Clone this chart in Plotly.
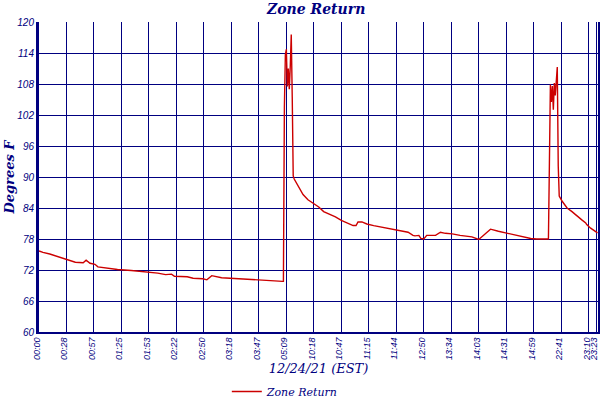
import plotly.graph_objects as go

# sample index along the log (one sample roughly every minute, gaps in the log)
sample_idx = [0, 4, 11, 17, 24, 31, 37, 45, 48, 52, 57, 60, 67, 80, 94, 108, 121, 129,
              135, 138, 151, 157, 167, 171, 176, 186, 208, 232, 240, 248, 249,
              250, 251, 252, 253, 254, 255, 256, 257, 258, 259, 260,
              263, 266, 269, 274, 280, 285, 290, 295, 302, 308, 315, 320, 323, 325,
              329, 334, 341, 349, 359, 368, 376, 381, 383, 387, 389, 392, 395, 404,
              409, 414, 421, 429, 441, 448, 455, 460, 468, 475, 480, 487, 495, 501,
              507, 518, 519,
              520, 521, 522, 523, 524, 525, 526, 527, 528, 529, 530,
              533, 538, 543, 548, 553, 557, 558, 562, 567, 569]
zone_return = [75.7, 75.4, 75.1, 74.7, 74.3, 73.9, 73.5, 73.4, 73.9, 73.3, 73.1, 72.6, 72.4,
               72.1, 71.9, 71.7, 71.4, 71.1, 71.2, 70.8, 70.7, 70.4, 70.3, 70.1, 70.9,
               70.5, 70.3, 70.1, 69.9, 69.8, 69.8,
               103.5, 113.7, 114.7, 107.5, 111.0, 107.0, 111.5, 117.6, 105.5, 90.2, 89.6,
               88.5, 87.5, 86.6, 85.6, 84.8, 84.2, 83.3, 82.9, 82.3, 81.6, 81.1, 80.6,
               80.6, 81.3, 81.3, 80.9, 80.6, 80.3, 79.9, 79.6, 79.3, 78.7, 78.6, 78.7,
               78.1, 78.0, 78.7, 78.7, 79.3, 79.1, 79.0, 78.7, 78.4, 77.9, 79.0, 79.9,
               79.5, 79.2, 79.1, 78.7, 78.4, 78.1, 78.0, 78.0, 78.0,
               92.7, 107.9, 104.5, 107.6, 103.0, 108.2, 105.8, 110.1, 111.3, 92.1, 86.3,
               85.3, 84.0, 83.3, 82.4, 81.7, 81.1, 80.8, 80.1, 79.5, 79.2]

tick_idx = [0, 28, 56, 84, 112, 140, 168, 196, 224, 252, 280, 308, 336, 364, 392,
            420, 448, 476, 504, 532, 560, 568]
tick_labels = ['00:00', '00:28', '00:57', '01:25', '01:53', '02:22', '02:50', '03:18',
               '03:47', '05:09', '10:18', '10:47', '11:15', '11:44', '12:50', '13:34',
               '14:03', '14:31', '14:59', '22:41', '23:10', '23:23']
y_ticks = [60, 66, 72, 78, 84, 90, 96, 102, 108, 114, 120]

navy = '#000080'
serif = 'DejaVu Serif'
sans = 'Liberation Sans'

fig = go.Figure()
fig.add_trace(go.Scatter(x=sample_idx, y=zone_return, mode='lines', name='Zone Return',
                         line=dict(color='#cc0000', width=1.4)))

fig.update_layout(
    width=600, height=400,
    margin=dict(l=39, r=2, t=22, b=68, autoexpand=False),
    paper_bgcolor='white', plot_bgcolor='white',
    title=dict(text='<b>Zone Return</b>', x=0.527, xanchor='center', y=0.99, yanchor='top',
               font=dict(family=serif, size=14, color=navy, style='italic')),
    showlegend=True,
    legend=dict(orientation='h', x=0.336, xanchor='left', y=-0.145, yanchor='top',
                itemwidth=30, font=dict(family=serif, size=11, color=navy, style='italic')),
)
fig.update_xaxes(range=[0, 569.5], tickvals=tick_idx, ticktext=tick_labels, tickangle=-90,
                 tickfont=dict(family=sans, size=9, color=navy, style='italic'),
                 ticklabelshift=-2, automargin=False,
                 showgrid=True, gridcolor=navy, gridwidth=1,
                 showline=True, linecolor=navy, linewidth=2, ticks='', zeroline=False,
                 title=dict(text='12/24/21 (EST)', standoff=4,
                            font=dict(family=serif, size=13, color=navy, style='italic')))
fig.update_yaxes(range=[60, 120], tickvals=y_ticks, automargin=False,
                 tickfont=dict(family=sans, size=10, color=navy, style='italic'),
                 showgrid=True, gridcolor=navy, gridwidth=1,
                 showline=True, linecolor=navy, linewidth=3, mirror=True, ticks='', zeroline=False,
                 title=dict(text='<b>Degrees F</b>', standoff=0,
                            font=dict(family=serif, size=13, color=navy, style='italic')))

# drop the default 8px page margin so the figure sits at the window corner
fig.write_html('out.html', config={'displayModeBar': False},
               post_script="document.body.style.margin='0';")
